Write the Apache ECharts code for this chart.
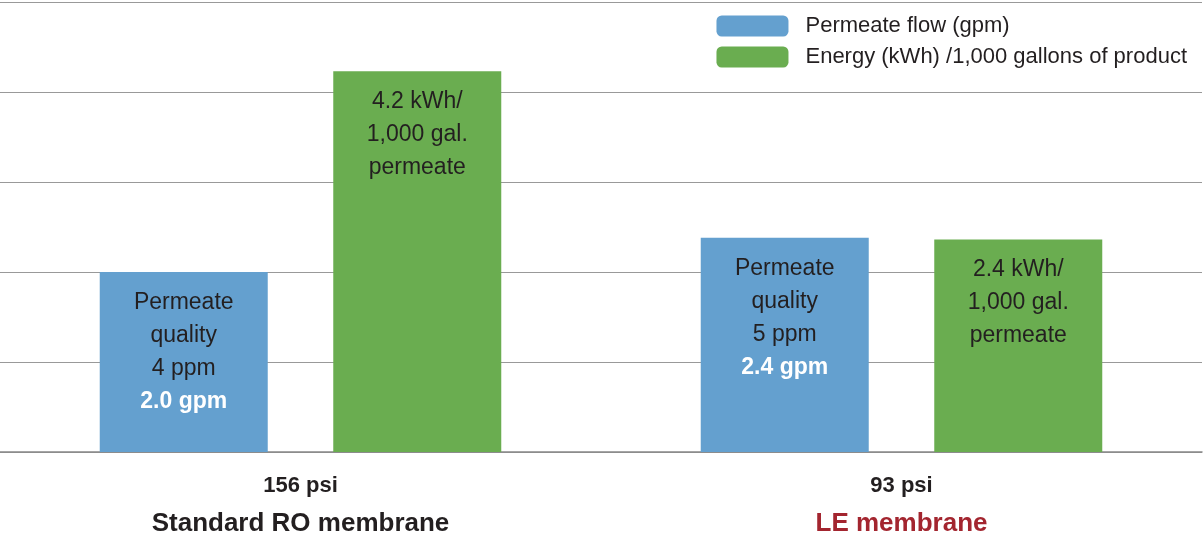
<!DOCTYPE html><html><head><meta charset="utf-8">
<script src="https://cdn.jsdelivr.net/npm/echarts@6/dist/echarts.min.js"></script>
<style>html,body{margin:0;padding:0;background:#fff}#c{width:1204px;height:537px}</style></head><body><div id="c"></div>
<script>
const categories = ['156 psi', '93 psi'];
const membranes = ['Standard RO membrane', 'LE membrane'];
const flowValues = [2.0, 2.38];
const energyValues = [4.23, 2.36];
const flowLabels = [['Permeate','quality','4 ppm','{b|2.0 gpm}'], ['Permeate','quality','5 ppm','{b|2.4 gpm}']];
const energyLabels = [['4.2 kWh/','1,000 gal.','permeate'], ['2.4 kWh/','1,000 gal.','permeate']];
const chart = echarts.init(document.getElementById('c'));
const font = 'Liberation Sans, Arial, sans-serif';
chart.setOption({
  animation:false,
  grid:{left:0,right:2,top:2,bottom:84},
  legend:{right:12,top:10,orient:'vertical',itemWidth:72,itemHeight:21,itemGap:9,
    textStyle:{fontFamily:font,fontSize:22,color:'#231f20',padding:[0,0,0,12]},
    data:['Permeate flow (gpm)','Energy (kWh) /1,000 gallons of product']},
  xAxis:{type:'category',data:categories,axisTick:{show:false},
    axisLine:{lineStyle:{color:'#888',width:1.5}},
    axisLabel:{interval:0,margin:14,fontFamily:font,
      formatter:(v,i)=>'{p|'+v+'}\n{'+(i===0?'m':'r')+'|'+membranes[i]+'}',
      rich:{p:{fontSize:22,fontWeight:'bold',color:'#231f20',fontFamily:font,lineHeight:40},
            m:{fontSize:26,fontWeight:'bold',color:'#231f20',fontFamily:font,lineHeight:36},
            r:{fontSize:26,fontWeight:'bold',color:'#a3252f',fontFamily:font,lineHeight:36}}}},
  yAxis:{type:'value',min:0,max:5,interval:1,axisLabel:{show:false},axisLine:{show:false},axisTick:{show:false},
    splitLine:{lineStyle:{color:'#999',width:1.2}}},
  series:[
    {name:'Permeate flow (gpm)',type:'bar',data:flowValues,barWidth:168,barGap:'39%',itemStyle:{color:'#64a0cf'},
     label:{show:true,position:'insideTop',distance:14,fontFamily:font,fontSize:23,color:'#231f20',lineHeight:33,
       formatter:p=>flowLabels[p.dataIndex].join('\n'),
       rich:{b:{fontFamily:font,fontSize:23,fontWeight:'bold',color:'#fff',lineHeight:33}}}},
    {name:'Energy (kWh) /1,000 gallons of product',type:'bar',data:energyValues,barWidth:168,itemStyle:{color:'#6aad50'},
     label:{show:true,position:'insideTop',distance:14,fontFamily:font,fontSize:23,color:'#231f20',lineHeight:33,
       formatter:p=>energyLabels[p.dataIndex].join('\n')}}
  ]
});
</script></body></html>
